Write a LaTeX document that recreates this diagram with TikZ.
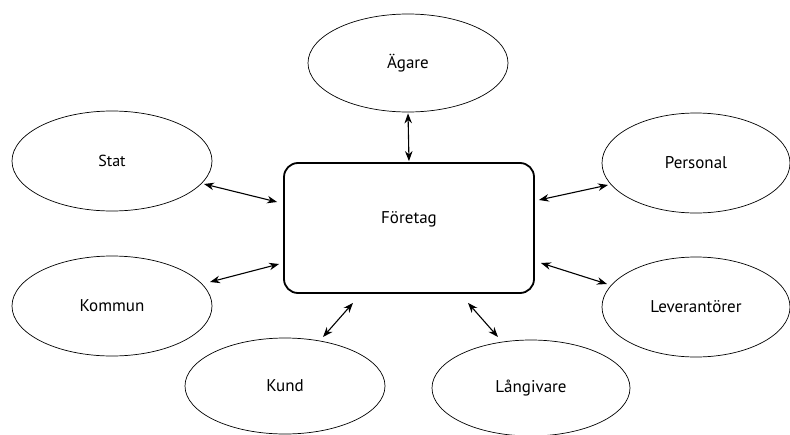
\documentclass[tikz,border=0pt]{standalone}
\usepackage{fontspec}
\setmainfont{PT Sans}
\usetikzlibrary{shapes.geometric,arrows.meta}
\begin{document}
\begin{tikzpicture}[x=1pt,y=-1pt,
  party/.style={ellipse,draw,line width=0.7pt,inner sep=0pt,font=\fontsize{17}{20}\selectfont},
  hub/.style={rectangle,draw,line width=1.8pt,rounded corners=14pt,minimum width=250pt,minimum height=130pt,inner sep=0pt},
  link/.style={line width=1.1pt,{Stealth[length=10pt,width=7.5pt]}-{Stealth[length=10pt,width=7.5pt]}}]
\useasboundingbox (0,0) rectangle (790,434);

% central company box
\node[hub,label={[yshift=9pt,font=\fontsize{17}{20}\selectfont]center:Företag}] (foretag) at (409,228) {};

% stakeholders
\node[party,minimum width=200pt,minimum height=98pt] (agare) at (408,63) {Ägare};
\node[party,minimum width=200pt,minimum height=100pt,font=\fontsize{16}{19}\selectfont] (stat) at (112,161) {Stat};
\node[party,minimum width=188pt,minimum height=100pt] (personal) at (696,163) {Personal};
\node[party,minimum width=200pt,minimum height=100pt] (kommun) at (112,306) {Kommun};
\node[party,minimum width=188pt,minimum height=100pt] (leverantorer) at (696,307) {Leverantörer};
\node[party,minimum width=200pt,minimum height=96pt] (kund) at (285,386) {Kund};
\node[party,minimum width=198pt,minimum height=96pt] (langivare) at (531,388) {Långivare};

% relations
\draw[link,shorten <=1pt,shorten >=1pt] (agare.south) -- (foretag.north);
\draw[link] ([shift={(92,23)}]stat.center) -- ([shift={(-6,-26)}]foretag.west);
\draw[link] ([shift={(4,-28)}]foretag.east) -- ([shift={(-88,22)}]personal.center);
\draw[link] ([shift={(98,-24)}]kommun.center) -- ([shift={(-4,36)}]foretag.west);
\draw[link] ([shift={(6,35)}]foretag.east) -- ([shift={(-89,-23)}]leverantorer.center);
\draw[link] ([shift={(38,-49)}]kund.center) -- ([shift={(-56,9)}]foretag.south);
\draw[link] ([shift={(59,9)}]foretag.south) -- ([shift={(-33,-51)}]langivare.center);
\end{tikzpicture}
\end{document}
